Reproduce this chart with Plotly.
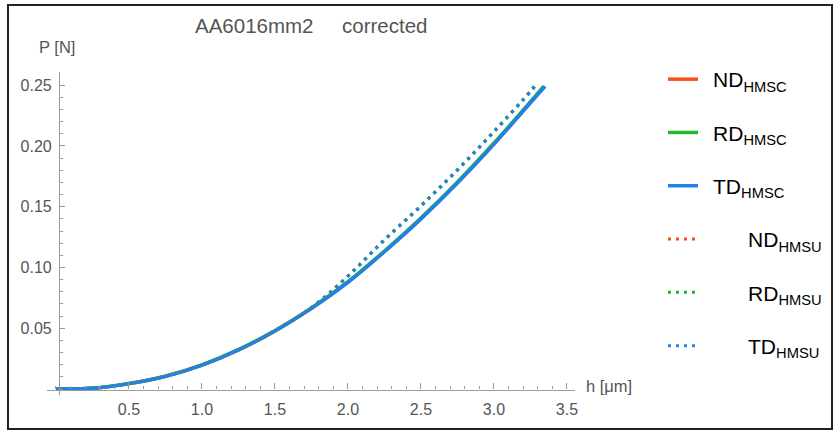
import plotly.graph_objects as go

# Indentation curves: load P [N] against depth h [µm]
h_grid = [0.0, 0.25, 0.5, 0.75, 1.0, 1.25, 1.5, 1.75, 2.0, 2.25, 2.5, 2.75, 3.0, 3.25]

# corrected curves (HMSC)
nd_hmsc_end = (3.345, 0.249)
nd_hmsc = [0.0, 0.0007, 0.0045, 0.0106, 0.0198, 0.0323, 0.0479, 0.0665, 0.0880, 0.1132, 0.1403, 0.1698, 0.2018, 0.2358]
rd_hmsc_end = (3.34, 0.249)
rd_hmsc = [0.0, 0.0007, 0.0046, 0.0106, 0.0199, 0.0324, 0.0480, 0.0667, 0.0883, 0.1136, 0.1407, 0.1703, 0.2024, 0.2364]
td_hmsc_end = (3.35, 0.249)
td_hmsc = [0.0, 0.0007, 0.0045, 0.0105, 0.0197, 0.0322, 0.0478, 0.0664, 0.0878, 0.1130, 0.1400, 0.1695, 0.2015, 0.2355]

# uncorrected curves (HMSU)
nd_hmsu_end = (3.285, 0.2494)
nd_hmsu = [0.0, 0.0007, 0.0045, 0.0106, 0.0198, 0.0324, 0.0481, 0.0670, 0.0930, 0.1228, 0.1508, 0.1803, 0.2118, 0.2448]
rd_hmsu_end = (3.275, 0.2492)
rd_hmsu = [0.0, 0.0007, 0.0046, 0.0106, 0.0199, 0.0325, 0.0482, 0.0671, 0.0932, 0.1230, 0.1510, 0.1806, 0.2121, 0.2452]
td_hmsu_end = (3.28, 0.249)
td_hmsu = [0.0, 0.0007, 0.0045, 0.0105, 0.0197, 0.0323, 0.0480, 0.0669, 0.0928, 0.1225, 0.1505, 0.1800, 0.2115, 0.2445]

x_tick_vals = [0.5, 1.0, 1.5, 2.0, 2.5, 3.0, 3.5]
x_tick_text = ["0.5", "1.0", "1.5", "2.0", "2.5", "3.0", "3.5"]
y_tick_vals = [0.05, 0.10, 0.15, 0.20, 0.25]
y_tick_text = ["0.05", "0.10", "0.15", "0.20", "0.25"]

RED = "#f4511e"
GREEN = "#22b828"
BLUE = "#1e82e6"
GRAY = "#555555"
AXIS = "#9a9a9a"
FONT = "Liberation Sans, Arial, Helvetica, sans-serif"

NB = "\u00a0"
THIN = "\u2009"
series = [
    (NB + THIN + "ND<sub>HMSC</sub>", nd_hmsc, nd_hmsc_end, RED, "solid"),
    (NB + THIN + "RD<sub>HMSC</sub>", rd_hmsc, rd_hmsc_end, GREEN, "solid"),
    (NB + THIN + "TD<sub>HMSC</sub>", td_hmsc, td_hmsc_end, BLUE, "solid"),
    (NB * 7 + THIN + "ND<sub>HMSU</sub>", nd_hmsu, nd_hmsu_end, RED, "dot"),
    (NB * 7 + THIN + "RD<sub>HMSU</sub>", rd_hmsu, rd_hmsu_end, GREEN, "dot"),
    (NB * 7 + THIN + "TD<sub>HMSU</sub>", td_hmsu, td_hmsu_end, BLUE, "dot"),
]

fig = go.Figure()
for i, (name, vals, end, color, style) in enumerate(series):
    xs = h_grid + [end[0]]
    ys = vals + [end[1]]
    fig.add_trace(go.Scatter(
        x=xs, y=ys, mode="lines", name=name,
        line=dict(color=color, width=3.5 if style == "solid" else 3,
                  dash="solid" if style == "solid" else "3px,5px",
                  shape="spline", smoothing=1.0),
        legendgroup=f"g{i}",
    ))

# plot area in pixels: x 47..575, y 72..395
L, R, T, B = 47, 575, 72, 395
W, H = 835, 431


def px(xp):
    return (xp - L) / (R - L)


def py(yp):
    return (B - yp) / (B - T)


fig.update_layout(
    width=W, height=H,
    margin=dict(l=L, r=W - R, t=T, b=H - B, pad=0, autoexpand=False),
    paper_bgcolor="white", plot_bgcolor="white",
    font=dict(family=FONT, color=GRAY, size=16),
    showlegend=True,
    legend=dict(
        x=px(663), y=py(59), xanchor="left", yanchor="top",
        font=dict(family=FONT, size=21, color="black"),
        tracegroupgap=23, bgcolor="rgba(0,0,0,0)", maxheight=420,
    ),
    xaxis=dict(
        range=[-0.0616, 3.555], anchor="free", position=py(389.5),
        showgrid=False, zeroline=False, showline=True, linecolor=AXIS, linewidth=1.2,
        ticks="inside", ticklen=6, tickcolor=AXIS, tickwidth=1,
        tickvals=x_tick_vals, ticktext=x_tick_text,
        tickfont=dict(size=16, color=GRAY), ticklabelstandoff=5,
        minor=dict(ticks="inside", ticklen=3, tickcolor=AXIS, dtick=0.1, tick0=0, showgrid=False),
    ),
    yaxis=dict(
        range=[-0.00485, 0.2608], anchor="free", position=px(59),
        showgrid=False, zeroline=False, showline=True, linecolor=AXIS, linewidth=1.2,
        ticks="inside", ticklen=5, tickcolor=AXIS, tickwidth=1,
        tickvals=y_tick_vals, ticktext=y_tick_text,
        tickfont=dict(size=16, color=GRAY), ticklabelstandoff=4,
        minor=dict(ticks="inside", ticklen=3, tickcolor=AXIS, dtick=0.01, tick0=0, showgrid=False),
    ),
    annotations=[
        dict(text="AA6016mm2" + NB * 5 + "corrected", xref="paper", yref="paper",
             x=px(193), y=py(25), xanchor="left", yanchor="middle", showarrow=False,
             font=dict(size=20.5, color=GRAY)),
        dict(text="P [N]", xref="paper", yref="paper", x=px(37), y=py(47),
             xanchor="left", yanchor="middle", showarrow=False, font=dict(size=16.5, color=GRAY)),
        dict(text="h [μm]", xref="paper", yref="paper", x=px(584), y=py(386),
             xanchor="left", yanchor="middle", showarrow=False, font=dict(size=16.5, color=GRAY)),
    ],
    shapes=[
        dict(type="rect", xref="paper", yref="paper", x0=px(8), x1=px(832), y0=py(429), y1=py(5),
             line=dict(color="#222222", width=2), fillcolor="rgba(0,0,0,0)", layer="below"),
    ],
)

fig.write_html("out.html")
